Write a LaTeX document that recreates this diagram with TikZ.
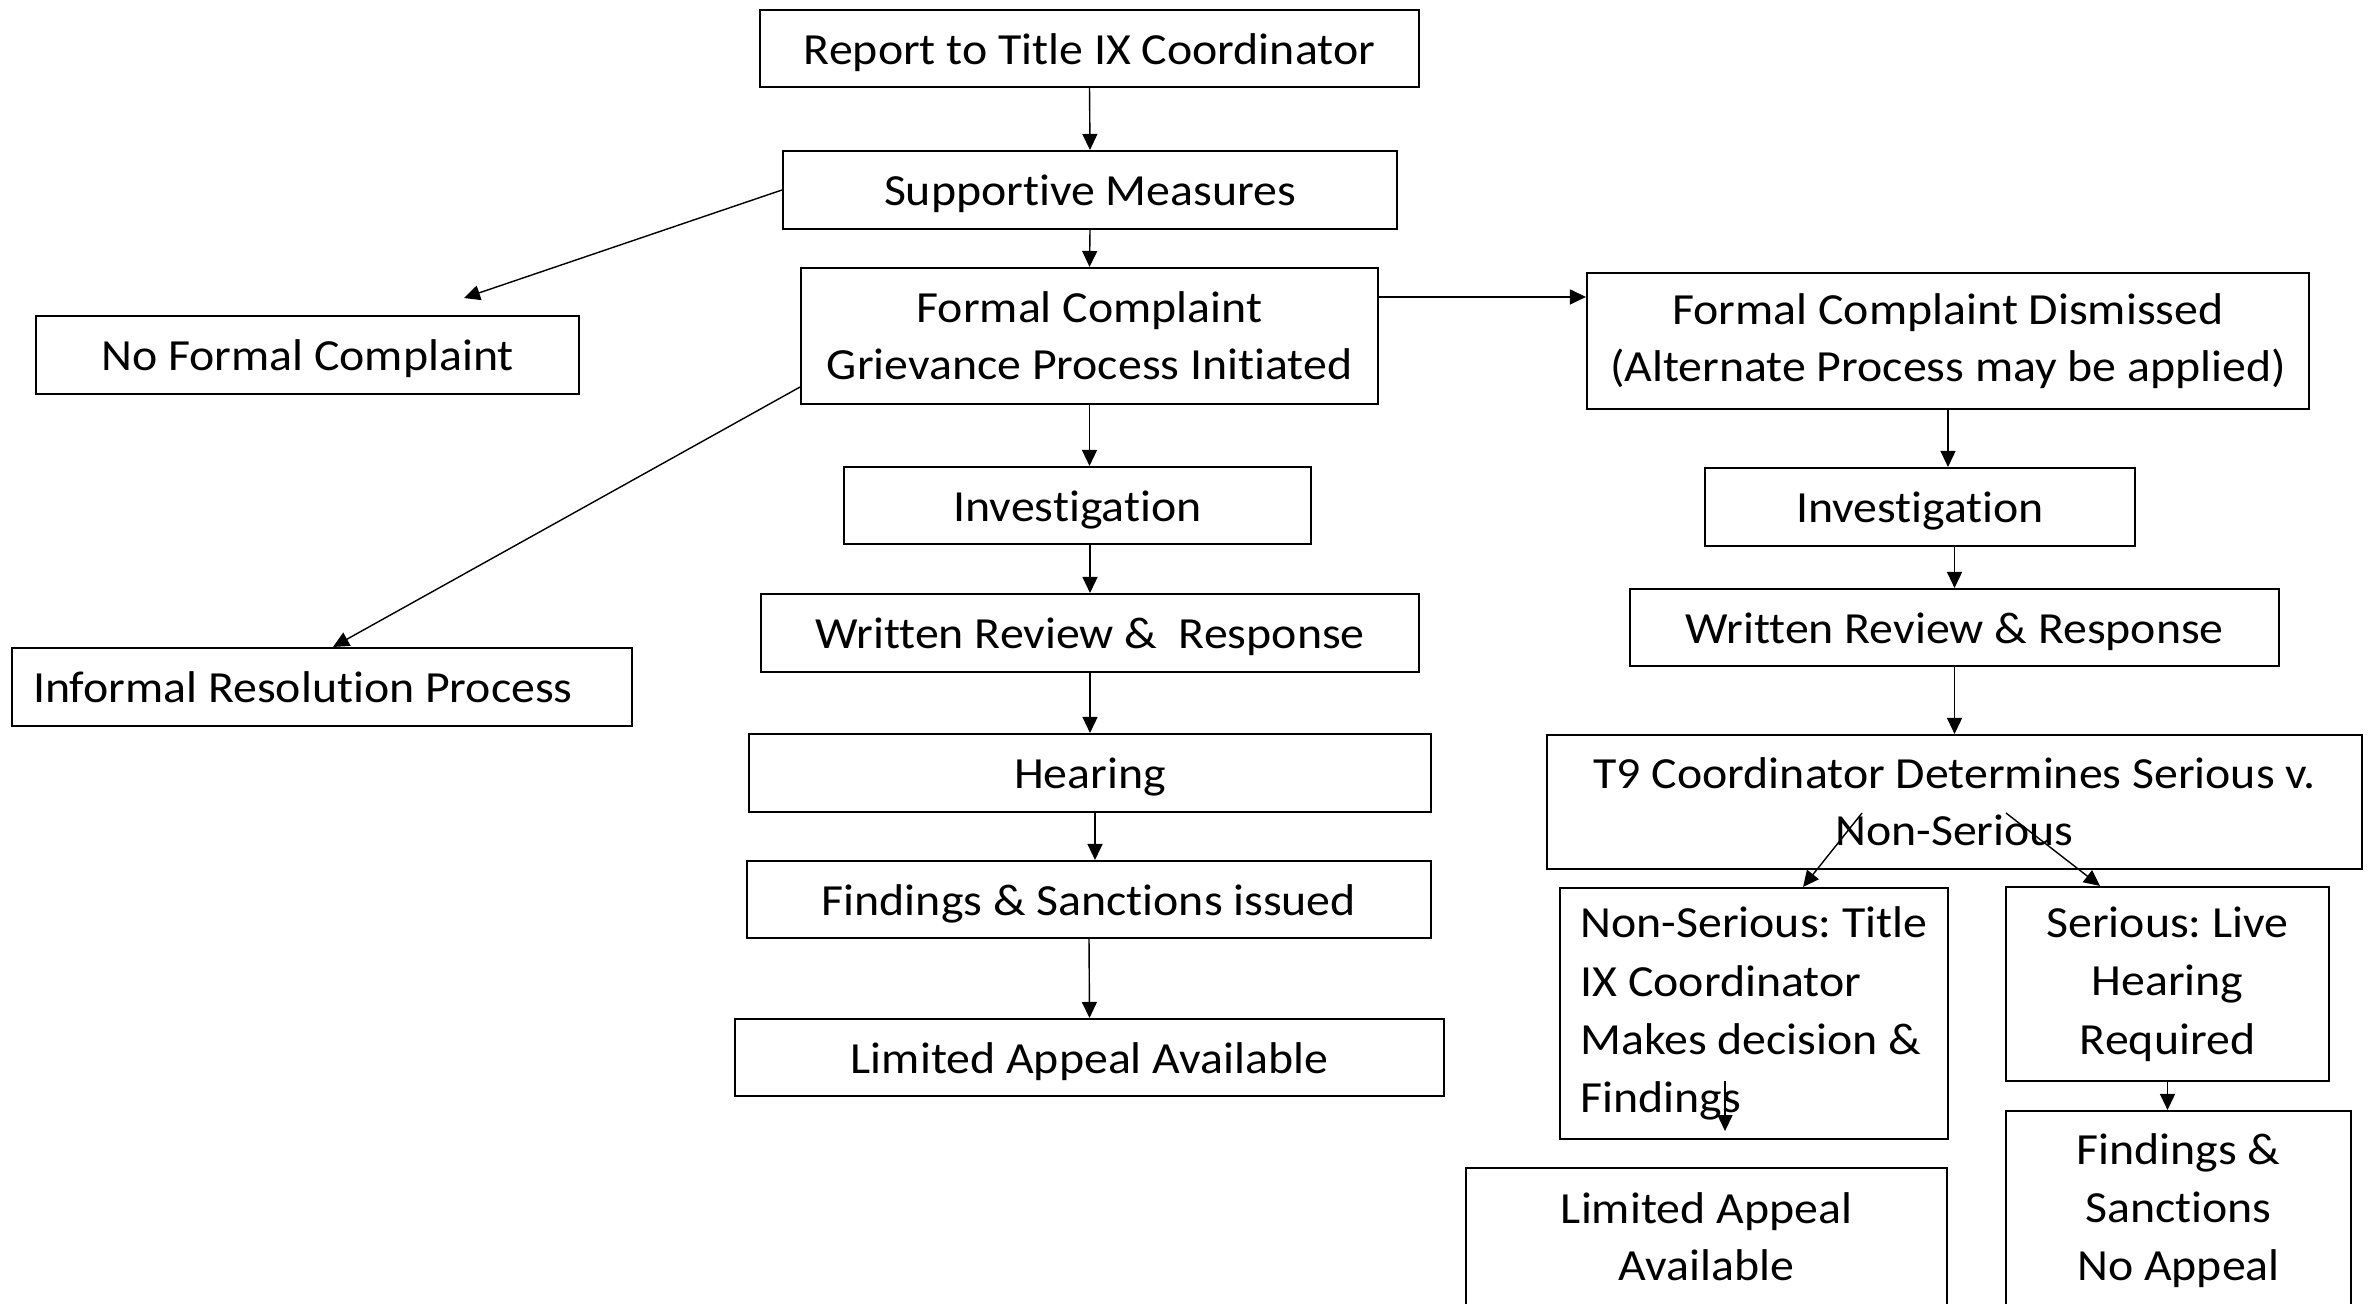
\documentclass[tikz,border=0pt]{standalone}
\usepackage{fontspec}
\setmainfont{Carlito}[FakeStretch=1.075,Ligatures={NoCommon}]
\usetikzlibrary{arrows.meta,calc}
\begin{document}
\frenchspacing
\begin{tikzpicture}[x=0.1mm,y=-0.1mm,
  box/.style={draw, line width=0.6pt, inner sep=0pt, align=center,
    font=\fontsize{12.66}{16.2}\selectfont\frenchspacing},
  tall/.style={box, font=\fontsize{12.66}{16.6}\selectfont\frenchspacing},
  one/.style={box, text height=4.6mm, text depth=1.5mm},
  multi/.style={draw, line width=0.6pt, inner sep=0pt,
    font=\fontsize{12.66}{16.2}\selectfont\frenchspacing},
  arr/.style={-{Triangle[length=1.6mm,width=1.5mm]}, line width=0.4pt}]
\useasboundingbox (0,0) rectangle (2374,1303);
\clip (0,0) rectangle (2374,1303);
\fill[white] (0,0) rectangle (2374,1303);

% left column
\node[one, minimum width=65.9mm, minimum height=7.7mm] (rep) at (1089.5,48.5) {Report to Title IX Coordinator};
\node[one, minimum width=61.4mm, minimum height=7.8mm] (sup) at (1090,190) {Supportive Measures};
\node[box, minimum width=57.7mm, minimum height=13.6mm] (fc) at (1089.5,336) {Formal Complaint\\Grievance Process Initiated};
\node[one, minimum width=54.3mm, minimum height=7.8mm] (nfc) at (307.5,355) {No Formal Complaint};
\node[multi, minimum width=62mm, minimum height=7.8mm, text height=4.6mm, text depth=1.5mm] (irp) at (322,687) {\makebox[57.8mm][l]{Informal Resolution Process}};
\node[one, minimum width=46.7mm, minimum height=7.7mm] (inv1) at (1077.5,505.5) {Investigation};
\node[one, minimum width=65.8mm, minimum height=7.8mm] (wr1) at (1090,633) {Written Review \&~ Response};
\node[one, minimum width=68.2mm, minimum height=7.8mm] (hear) at (1090,773) {Hearing};
\node[one, minimum width=68.4mm, minimum height=7.7mm] (fs1) at (1089,899.5) {Findings \& Sanctions issued};
\node[one, minimum width=70.9mm, minimum height=7.7mm] (la1) at (1089.5,1057.5) {Limited Appeal Available};

% right column
\node[box, minimum width=72.2mm, minimum height=13.6mm] (dis) at (1948,341) {Formal Complaint Dismissed\\(Alternate Process may be applied)};
\node[one, minimum width=43mm, minimum height=7.8mm] (inv2) at (1920,507) {Investigation};
\node[one, minimum width=64.9mm, minimum height=7.7mm] (wr2) at (1954.5,627.5) {Written Review \& Response};
\node[box, minimum width=81.5mm, minimum height=13.4mm] (t9) at (1954.5,802) {T9 Coordinator Determines Serious v.\\Non-Serious};
\node[multi, font=\fontsize{12.66}{16.6}\selectfont\frenchspacing, minimum width=38.8mm, minimum height=25.1mm] (ns) at (1754,1013.5) {\begin{tabular}{@{}l@{}}Non-Serious: Title\\IX Coordinator\\Makes decision \&\\Findings\end{tabular}};
\node[tall, minimum width=32.3mm, minimum height=19.4mm] (ser) at (2167.5,984) {Serious: Live\\Hearing\\Required};
\node[box, minimum width=48.1mm, minimum height=13.8mm] (la2) at (1706.5,1237) {Limited Appeal\\Available};
\node[tall, minimum width=34.5mm, minimum height=19.9mm] (fna) at (2178.5,1210.5) {Findings \&\\Sanctions\\No Appeal};

% free ends
\coordinate (nfcT) at (464,298);
\coordinate (t9a) at (1862,813);
\coordinate (t9b) at (2006,813);
\coordinate (nsa) at (1725,1081);
\coordinate (nsb) at (1725,1131);

% connectors
\draw[arr] (rep.south) -- (sup.north);
\draw[arr] (sup.south) -- (fc.north);
\draw[arr] (sup.west) -- (nfcT);
\draw[arr] ($(fc.south west)+(0,-18)$) -- ($(irp.north)+(11,0)$);
\draw[arr] ($(fc.north east)+(0,30)$) -- ($(dis.north west)+(0,25)$);
\draw[arr] (fc.south) -- (fc.south |- inv1.north);
\draw[arr] (wr1.north |- inv1.south) -- (wr1.north);
\draw[arr] (wr1.south) -- (hear.north);
\draw[arr] ($(hear.south)+(5,0)$) -- ($(fs1.north)+(6,0)$);
\draw[arr] (fs1.south) -- (la1.north);
\draw[arr] (dis.south) -- (dis.south |- inv2.north);
\draw[arr] (wr2.north |- inv2.south) -- (wr2.north);
\draw[arr] (wr2.south) -- (t9.north);
\draw[arr] (t9a) -- ($(ns.north)+(49,0)$);
\draw[arr] (t9b) -- ($(ser.north)+(-67.5,0)$);
\draw[arr] (ser.south) -- (ser.south |- fna.north);
\draw[arr] (nsa) -- (nsb);
\end{tikzpicture}
\end{document}
